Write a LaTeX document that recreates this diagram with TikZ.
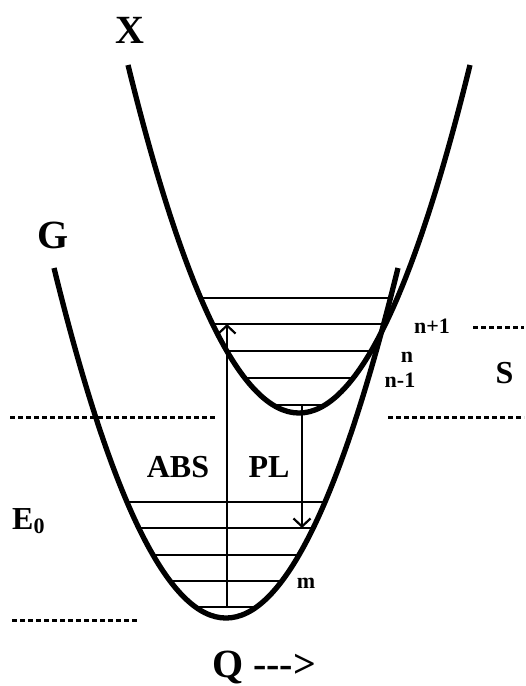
\documentclass[tikz,border=0pt]{standalone}
\usepackage{fontspec}
\setmainfont{Liberation Serif}
\usetikzlibrary{arrows.meta}
\tikzset{
  curve/.style={line width=5.3pt},
  level/.style={line width=2pt},
  trans/.style={line width=2.2pt,-{Straight Barb[length=8pt,width=17pt]}},
  dots/.style={line width=3pt,dash pattern=on 5pt off 3pt},
  big/.style={inner sep=0pt,anchor=base,font=\fontsize{40}{40}\selectfont\bfseries},
  mid/.style={inner sep=0pt,anchor=base,font=\fontsize{32}{32}\selectfont\bfseries},
  small/.style={inner sep=0pt,anchor=base,font=\fontsize{22}{22}\selectfont\bfseries},
}
\begin{document}
\begin{tikzpicture}[x=1pt,y=-1pt]
\fill[white] (0,0) rectangle (526,686);
\useasboundingbox (0,0) rectangle (526,686);
% potential curves
\draw[curve] (128,65) .. controls (242,529) and (356,529) .. (470,65);
\draw[curve] (54,268) .. controls (168.7,734.7) and (283.3,734.7) .. (398,268);
% vibrational levels of X
\draw[level] (201,298) -- (389,298);
\draw[level] (212.5,324) -- (383,324);
\draw[level] (227,351) -- (372,351);
\draw[level] (245,378) -- (353,378);
\draw[level] (273,405) -- (325,405);
% vibrational levels of G
\draw[level] (127,502) -- (325,502);
\draw[level] (139,528) -- (313,528);
\draw[level] (153,555) -- (299,555);
\draw[level] (170,581) -- (282,581);
\draw[level] (196,607) -- (256,607);
% transitions
\coordinate (absA) at (227,607);
\coordinate (absB) at (227,324);
\coordinate (plA) at (302,405);
\coordinate (plB) at (302,528);
\draw[trans] (absA) -- (absB);
\draw[trans] (plA) -- (plB);
% dotted lines
\draw[dots] (10,417) -- (215,417);
\draw[dots] (388,417) -- (524,417);
\draw[dots] (12,620) -- (138,620);
\draw[dots] (473,327) -- (524,327);
% labels
\node[big] (lX) at (130,43) {X};
\node[big] (lG) at (53,248) {G};
\node[mid] (lABS) at (178,477) {ABS};
\node[mid] (lPL) at (269,477) {PL};
\node[mid] (lS) at (504.5,383) {S};
\node[mid,anchor=base west] (lE) at (12,529) {E\raisebox{-4pt}{\fontsize{22}{22}\selectfont 0}};
\node[small] (lnp) at (432,333) {n+1};
\node[small] (ln) at (407,362) {n};
\node[small] (lnm) at (400,387) {n-1};
\node[small] (lm) at (306,588) {m};
\node[big,anchor=base west] (lQ) at (212,677) {Q -{}-{}->};
\end{tikzpicture}
\end{document}
